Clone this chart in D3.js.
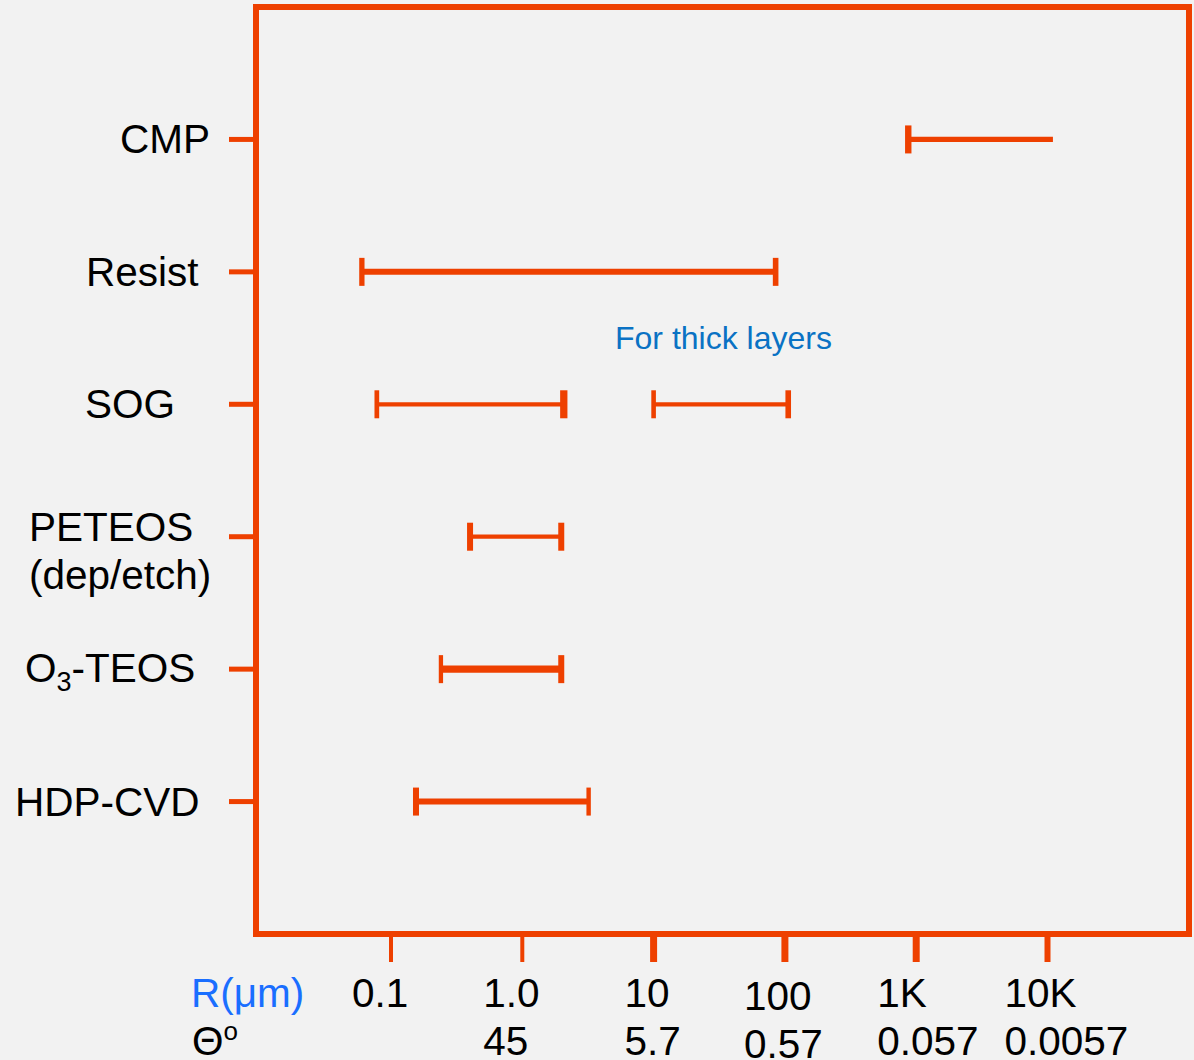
<!DOCTYPE html>
<html>
<head>
<meta charset="utf-8">
<script src="https://cdn.jsdelivr.net/npm/d3@7"></script>
<style>
  html, body { margin: 0; padding: 0; background: #f2f2f2; }
  svg { display: block; }
  text { font-family: "Liberation Sans", Arial, sans-serif; }
</style>
</head>
<body>
<svg id="chart" width="1194" height="1060"></svg>
<script>
// ---------- DATA ----------
const categories = ["CMP", "Resist", "SOG", "PETEOS", "O3-TEOS", "HDP-CVD"];
// range segments (R in µm); SOG has two ranges
const segCategory = ["CMP", "Resist", "SOG", "SOG", "PETEOS", "O3-TEOS", "HDP-CVD"];
const segLow  = [870, 0.06, 0.078, 10, 0.40, 0.24, 0.155];
const segHigh = [11000, 85, 2.07, 106, 1.98, 1.98, 3.2];
const segHasHighCap = [false, true, true, true, true, true, true];
// x-axis ticks
const tickValues = [0.1, 1, 10, 100, 1000, 10000];
const tickLabelsR = ["0.1", "1.0", "10", "100", "1K", "10K"];
const tickLabelsTheta = ["", "45", "5.7", "0.57", "0.057", "0.0057"];
const annotationText = "For thick layers";

// ---------- STYLE / LAYOUT ----------
const ORANGE = "#ee4000";
const svg = d3.select("#chart");
svg.append("rect").attr("width", 1194).attr("height", 1060).attr("fill", "#f2f2f2");

const frame = { left: 256, top: 7, right: 1189, bottom: 934 };

const x = d3.scaleLog().domain([0.1, 10000]).range([391, 1047.5]);
const y = d3.scalePoint().domain(categories).range([frame.top, frame.bottom]).padding(1);

const segLineWidth = [5.3, 6, 4.3, 4.3, 4.3, 7.3, 6];
const segCapLowW  = [6.4, 5.3, 4.7, 4.6, 6, 4.3, 6];
const segCapHighW = [0, 5.6, 7.3, 5.6, 6, 6, 4.4];
const capH = 28;

// frame
svg.append("rect")
  .attr("x", frame.left).attr("y", frame.top)
  .attr("width", frame.right - frame.left).attr("height", frame.bottom - frame.top)
  .attr("fill", "none").attr("stroke", ORANGE).attr("stroke-width", 6);

// left category ticks
svg.append("g").selectAll("line").data(categories).join("line")
  .attr("x1", 229).attr("x2", frame.left)
  .attr("y1", d => y(d)).attr("y2", d => y(d))
  .attr("stroke", ORANGE).attr("stroke-width", 5);

// bottom ticks
const tickW = [4, 4, 7, 7, 7, 6];
svg.append("g").selectAll("line").data(tickValues).join("line")
  .attr("x1", d => x(d)).attr("x2", d => x(d))
  .attr("y1", frame.bottom).attr("y2", 962)
  .attr("stroke", ORANGE).attr("stroke-width", (d, i) => tickW[i]);

// range bars
const segs = segCategory.map((c, i) => ({ c, lo: segLow[i], hi: segHigh[i], i }));
const gBars = svg.append("g");
gBars.selectAll("line.bar").data(segs).join("line").attr("class", "bar")
  .attr("x1", d => x(d.lo)).attr("x2", d => x(d.hi))
  .attr("y1", d => y(d.c)).attr("y2", d => y(d.c))
  .attr("stroke", ORANGE).attr("stroke-width", d => segLineWidth[d.i]);
gBars.selectAll("rect.caplo").data(segs).join("rect").attr("class", "caplo")
  .attr("x", d => x(d.lo) - segCapLowW[d.i] / 2)
  .attr("y", d => y(d.c) - capH / 2)
  .attr("width", d => segCapLowW[d.i]).attr("height", capH)
  .attr("fill", ORANGE);
gBars.selectAll("rect.caphi").data(segs.filter(d => segHasHighCap[d.i])).join("rect").attr("class", "caphi")
  .attr("x", d => x(d.hi) - segCapHighW[d.i] / 2)
  .attr("y", d => y(d.c) - capH / 2)
  .attr("width", d => segCapHighW[d.i]).attr("height", capH)
  .attr("fill", ORANGE);

// category labels
const labelX = [120, 86, 85, 29, 25, 15];
const gLab = svg.append("g").attr("font-size", 40.5).attr("fill", "#000");
categories.forEach((c, i) => {
  const cy = y(c);
  if (c === "PETEOS") {
    gLab.append("text").attr("x", labelX[i]).attr("y", cy + 4).text("PETEOS");
    gLab.append("text").attr("x", labelX[i]).attr("y", cy + 52).text("(dep/etch)");
  } else if (c === "O3-TEOS") {
    const t = gLab.append("text").attr("x", labelX[i]).attr("y", cy + 13);
    t.append("tspan").text("O");
    t.append("tspan").attr("font-size", 27).attr("dy", 9).text("3");
    t.append("tspan").attr("dy", -9).text("-TEOS");
  } else {
    gLab.append("text").attr("x", labelX[i]).attr("y", cy + 14).text(c);
  }
});

// x tick labels
const tickDx = [-39, -39, -29, -41, -39, -43];
const tickDy = [0, 0, 0, 3, 0, 0];
const gTL = svg.append("g").attr("font-size", 40.5).attr("fill", "#000");
tickValues.forEach((v, i) => {
  gTL.append("text").attr("x", x(v) + tickDx[i]).attr("y", 1007 + tickDy[i]).text(tickLabelsR[i]);
  if (tickLabelsTheta[i]) {
    gTL.append("text").attr("x", x(v) + tickDx[i]).attr("y", 1055 + tickDy[i]).text(tickLabelsTheta[i]);
  }
});

// axis row titles
svg.append("text").attr("x", 191).attr("y", 1007).attr("font-size", 40.5)
  .attr("fill", "#1a6eff").text("R(μm)");
const th = svg.append("text").attr("x", 192).attr("y", 1055).attr("font-size", 40.5).attr("fill", "#000");
th.append("tspan").text("Θ");
th.append("tspan").attr("font-size", 26).attr("dy", -15).text("o");

// annotation
svg.append("text").attr("x", 615).attr("y", 349).attr("font-size", 32)
  .attr("fill", "#0a72c4").text(annotationText);
</script>
</body>
</html>
